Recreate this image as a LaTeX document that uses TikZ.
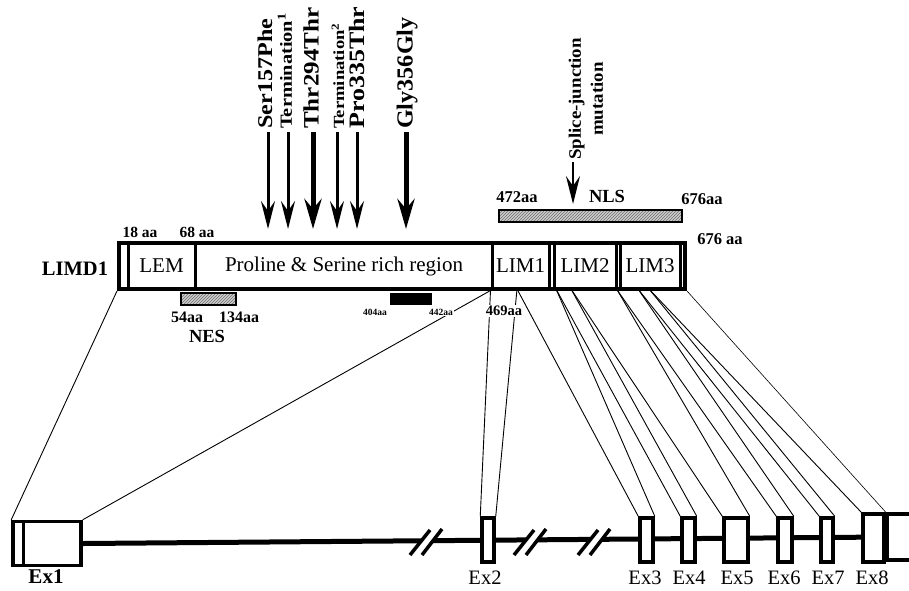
\documentclass[tikz,border=0pt]{standalone}
\usepackage{fontspec}
\setmainfont{Liberation Serif}
\usetikzlibrary{positioning, arrows.meta, patterns, backgrounds}

\definecolor{hatchBg}{RGB}{205,205,205}
\definecolor{hatchLine}{RGB}{110,110,110}

\def\rowBar{266}
\def\rowBarBot{289}
\def\rowExon{540}
\def\rowExLabel{578}
\def\rowMutBase{129}
\def\rowMutTip{229}

\begin{document}
\begin{tikzpicture}[x=1pt, y=-1pt,
    >={Stealth[length=28pt, width=14pt, inset=10pt]},
    protbar/.style  ={rectangle, draw, line width=4pt, minimum height=46pt, inner sep=0pt},
    domainbox/.style={rectangle, draw, line width=3pt, minimum height=46pt, inner sep=0pt,
                      font=\fontsize{21}{24}\selectfont},
    hatchbox/.style ={rectangle, draw, line width=2.5pt, minimum height=12pt, inner sep=0pt,
                      preaction={fill=hatchBg}, pattern=north east lines, pattern color=hatchLine},
    aaLabel/.style  ={font=\bfseries\fontsize{16}{18}\selectfont, inner sep=1pt},
    tinyLabel/.style={font=\bfseries\fontsize{9.5}{10}\selectfont, inner sep=1pt},
    mutLabel/.style ={rotate=90, anchor=west, inner sep=0pt},
    mutarrow/.style ={->, line width=3pt},
    mutbold/.style  ={-{Stealth[length=30pt, width=17pt, inset=10pt]}, line width=5pt},
    exon/.style     ={rectangle, draw, fill=white, line width=3.5pt, minimum height=44pt, inner sep=0pt},
    exLabel/.style  ={font=\fontsize{20.5}{24}\selectfont, inner sep=0pt},
    mapline/.style  ={line width=0.9pt},
    geneline/.style ={line width=5pt},
]
\useasboundingbox (0,0) rectangle (909,590);
\clip (0,0) rectangle (909,590);

% =====================================================
% Gene: exons on the genomic line
% =====================================================
\node[exon, minimum width=68pt]                      (ex1) at (47,543.5) {};
\node[exon, minimum width=12pt]                      (ex2) at (488,\rowExon) {};
\node[exon, minimum width=13pt]                      (ex3) at (646.5,\rowExon) {};
\node[exon, minimum width=13pt]                      (ex4) at (688.5,\rowExon) {};
\node[exon, minimum width=24pt]                      (ex5) at (736,\rowExon) {};
\node[exon, minimum width=14pt]                      (ex6) at (785,\rowExon) {};
\node[exon, minimum width=12pt]                      (ex7) at (827,\rowExon) {};
\node[exon, minimum width=21pt, minimum height=48pt] (ex8) at (873.5,538) {};
\node[exon, minimum width=43pt, minimum height=46pt] (utr) at (908.5,537) {};
\draw[line width=3pt] (ex1.north west) ++(12,2) -- ++(0,43);

% intron breaks
\foreach \bx in {426,530,594}{
    \draw[white, line width=8pt] (\bx-10,553) -- (\bx+10,531);
    \draw[line width=3.5pt] (\bx-16,555) -- (\bx+4,530);
    \draw[line width=3.5pt] (\bx-4,555) -- (\bx+16,529);
}

\node[exLabel, font=\bfseries\fontsize{21}{24}\selectfont] (lex1) at (46,577) {Ex1};
\node[exLabel] (lex2) at (485,\rowExLabel) {Ex2};
\node[exLabel] (lex3) at (645,\rowExLabel) {Ex3};
\node[exLabel] (lex4) at (689,\rowExLabel) {Ex4};
\node[exLabel] (lex5) at (737,\rowExLabel) {Ex5};
\node[exLabel] (lex6) at (784,\rowExLabel) {Ex6};
\node[exLabel] (lex7) at (828,\rowExLabel) {Ex7};
\node[exLabel] (lex8) at (872,\rowExLabel) {Ex8};

% =====================================================
% Protein: LIMD1
% =====================================================
\node[protbar, minimum width=566pt] (limd1) at (402,\rowBar) {};
\node[domainbox, minimum width=67pt] (lem)  at (161.5,\rowBar) {LEM};
\node[domainbox, minimum width=57pt] (lim1) at (520.5,\rowBar) {LIM1};
\node[domainbox, minimum width=62pt] (lim2) at (585,\rowBar) {LIM2};
\node[domainbox, minimum width=60pt] (lim3) at (650,\rowBar) {LIM3};
\node[font=\fontsize{21}{24}\selectfont] (prorich) at (344,\rowBar) {Proline \& Serine rich region};

\node[font=\bfseries\fontsize{20.5}{24}\selectfont] (name) at (75,269) {LIMD1};
\node[aaLabel, font=\bfseries\fontsize{15.5}{18}\selectfont] (aa18) at (140,232) {18 aa};
\node[aaLabel, font=\bfseries\fontsize{15.5}{18}\selectfont] (aa68) at (197,232) {68 aa};
\node[aaLabel, font=\bfseries\fontsize{16.5}{18}\selectfont] (aa676) at (720,239) {676 aa};

% exon boundaries on the protein
\coordinate (b2) at (517,\rowBarBot);
\coordinate (b3) at (556,\rowBarBot);
\coordinate (b4) at (571,\rowBarBot);
\coordinate (b6) at (638,\rowBarBot);
\coordinate (b7) at (649,\rowBarBot);

\begin{scope}[on background layer]
    % genomic line
    \draw[geneline] (ex1.east) -- (utr.west);
    % protein -> exon mapping
    \draw[mapline] (limd1.south west) -- (ex1.north west);
    \draw[mapline] (lim1.south west)  -- (ex1.north east);
    \draw[mapline] (lim1.south west)  -- (ex2.north west);
    \draw[mapline] (b2) -- (ex2.north east);
    \draw[mapline] (b2) -- (ex3.north west);
    \draw[mapline] (b3) -- (ex3.north east);
    \draw[mapline] (b3) -- (ex4.north west);
    \draw[mapline] (b4) -- (ex4.north east);
    \draw[mapline] (b4) -- (ex5.north west);
    \draw[mapline] (lim2.south east) -- (ex5.north east);
    \draw[mapline] (lim2.south east) -- (ex6.north west);
    \draw[mapline] (b6) -- (ex6.north east);
    \draw[mapline] (b6) -- (ex7.north west);
    \draw[mapline] (b7) -- (ex7.north east);
    \draw[mapline] (b7) -- (ex8.north west);
    \draw[mapline, line width=0.6pt] (limd1.south east) -- (ex8.north east);
\end{scope}

% =====================================================
% Signals below and above the bar
% =====================================================
\node[hatchbox, minimum width=55pt] (nes) at (208.5,299) {};
\node[aaLabel] (aa54)  at (187,317) {54aa};
\node[aaLabel] (aa134) at (239,317) {134aa};
\node[aaLabel, font=\bfseries\fontsize{18.5}{20}\selectfont] (nesl) at (207,336) {NES};

\node[rectangle, fill=black, minimum width=42pt, minimum height=12pt, inner sep=0pt] (box404) at (411,299) {};
\node[tinyLabel] (aa404) at (375,312) {404aa};
\node[tinyLabel, fill=white] (aa442) at (441,312) {442aa};
\node[aaLabel, font=\bfseries\fontsize{14.5}{16}\selectfont, fill=white] (aa469) at (504,311) {469aa};

\node[hatchbox, minimum width=183pt] (nls) at (590.5,216) {};
\node[aaLabel, font=\bfseries\fontsize{16.5}{18}\selectfont] (aa472)  at (517,197) {472aa};
\node[aaLabel, font=\bfseries\fontsize{18.5}{20}\selectfont] (nlsl)   at (607,196) {NLS};
\node[aaLabel, font=\bfseries\fontsize{16.5}{18}\selectfont] (aa676b) at (702,199) {676aa};

% =====================================================
% Mutations
% =====================================================
\node[mutLabel, xscale=1.15, font=\bfseries\fontsize{21}{24}\selectfont] (mSer)  at (265,\rowMutBase) {Ser157Phe};
\node[mutLabel, xscale=1.2,  font=\bfseries\fontsize{17}{22}\selectfont] (mTerA) at (285,\rowMutBase) {Termination\textsuperscript{1}};
\node[mutLabel, xscale=1.14, font=\bfseries\fontsize{22}{26}\selectfont] (mThr)  at (311,\rowMutBase) {Thr294Thr};
\node[mutLabel, xscale=1.2,  font=\bfseries\fontsize{15.5}{20}\selectfont] (mTerB) at (338,\rowMutBase) {Termination\textsuperscript{2}};
\node[mutLabel, xscale=1.18, font=\bfseries\fontsize{22}{26}\selectfont] (mPro)  at (357,\rowMutBase) {Pro335Thr};
\node[mutLabel, xscale=1.05, font=\bfseries\fontsize{23}{26}\selectfont] (mGly)  at (407,\rowMutBase) {Gly356Gly};

\coordinate (tSer)  at (268,\rowMutTip);
\coordinate (tTerA) at (288,\rowMutTip);
\coordinate (tThr)  at (313,\rowMutTip);
\coordinate (tTerB) at (337,\rowMutTip);
\coordinate (tPro)  at (357,\rowMutTip);
\coordinate (tGly)  at (406,\rowMutTip);

\draw[mutarrow] (tSer  |- mSer.west)  ++(0,3) -- (tSer);
\draw[mutarrow] (tTerA |- mTerA.west) ++(0,3) -- (tTerA);
\draw[mutbold]  (tThr  |- mThr.west)  ++(0,3) -- (tThr);
\draw[mutarrow] (tTerB |- mTerB.west) ++(0,3) -- (tTerB);
\draw[mutarrow] (tPro  |- mPro.west)  ++(0,3) -- (tPro);
\draw[mutbold]  (tGly  |- mGly.west)  ++(0,3) -- (tGly);

% splice-junction mutation
\node[mutLabel, xscale=1.08, anchor=center, align=center, font=\bfseries\fontsize{17.5}{22}\selectfont] (splice) at (586,99)
     {Splice-junction\\mutation};
\coordinate (tSplice) at (573,204);
\draw[mutarrow, line width=2.5pt] (tSplice |- splice.west) ++(0,2) -- (tSplice);

\end{tikzpicture}
\end{document}
